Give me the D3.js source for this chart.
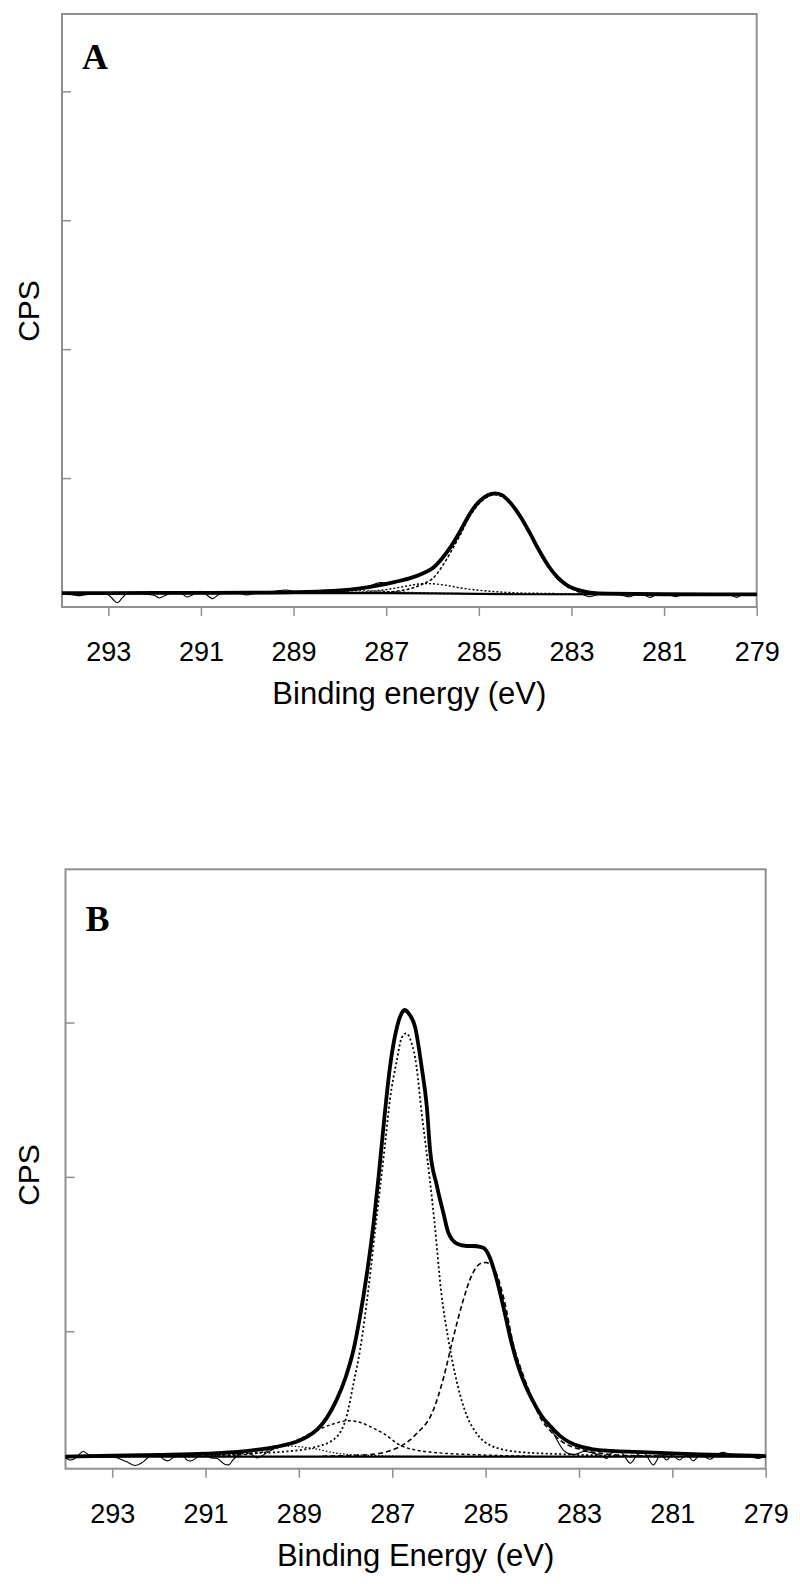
<!DOCTYPE html>
<html>
<head>
<meta charset="utf-8">
<script src="https://cdn.jsdelivr.net/npm/d3@7"></script>
<style>
  body { margin: 0; background: #fff; }
  svg { display: block; }
</style>
</head>
<body>
<script>
// x ticks (binding energy, eV) shared by both panels
var energyTicks = [293, 291, 289, 287, 285, 283, 281, 279];

// ---- panel A : [eV, CPS (arbitrary units)] ----
var rawA = [[294.0,0.100],[293.8,0.095],[293.6,0.088],[293.4,0.100],[293.2,0.108],[293.0,0.095],[292.9,0.060],[292.8,0.033],[292.7,0.070],[292.6,0.105],[292.4,0.110],[292.2,0.100],[292.0,0.090],[291.9,0.070],[291.8,0.085],[291.6,0.112],[291.4,0.100],[291.3,0.078],[291.15,0.100],[291.02,0.122],[290.9,0.100],[290.75,0.065],[290.6,0.100],[290.4,0.115],[290.2,0.108],[290.0,0.093],[289.8,0.110],[289.5,0.118],[289.15,0.132],[288.9,0.112],[288.6,0.120],[288.3,0.130],[288.0,0.128],[287.8,0.140],[287.56,0.150],[287.35,0.165],[287.13,0.190],[286.9,0.183],[286.6,0.215],[286.3,0.250],[286.0,0.300],[285.8,0.380],[285.6,0.470],[285.4,0.600],[285.2,0.730],[285.0,0.820],[284.8,0.875],[284.65,0.885],[284.5,0.872],[284.3,0.805],[284.1,0.700],[283.9,0.570],[283.7,0.445],[283.5,0.325],[283.3,0.230],[283.1,0.175],[282.95,0.140],[282.8,0.105],[282.6,0.080],[282.4,0.100],[282.2,0.104],[282.0,0.100],[281.85,0.085],[281.73,0.080],[281.6,0.098],[281.45,0.095],[281.3,0.075],[281.15,0.098],[281.0,0.100],[280.85,0.090],[280.73,0.080],[280.6,0.098],[280.3,0.100],[280.0,0.096],[279.7,0.100],[279.55,0.090],[279.43,0.075],[279.3,0.095],[279.0,0.098]];
var envelopeA = [[294.0,0.108],[292.0,0.109],[290.0,0.111],[289.0,0.115],[288.5,0.120],[288.0,0.128],[287.6,0.142],[287.2,0.165],[286.8,0.195],[286.5,0.222],[286.2,0.262],[286.0,0.300],[285.8,0.375],[285.6,0.470],[285.4,0.590],[285.2,0.720],[285.0,0.815],[284.8,0.868],[284.65,0.881],[284.5,0.868],[284.3,0.800],[284.1,0.700],[283.9,0.575],[283.7,0.440],[283.5,0.320],[283.3,0.230],[283.1,0.170],[282.9,0.137],[282.6,0.112],[282.2,0.103],[281.0,0.099],[279.0,0.098]];
var mainPeakA = [[288.5,0.108],[287.5,0.110],[287.0,0.116],[286.5,0.140],[286.2,0.180],[286.0,0.220],[285.8,0.310],[285.6,0.430],[285.4,0.560],[285.2,0.700],[285.0,0.800],[284.8,0.857],[284.65,0.870],[284.5,0.857],[284.3,0.790],[284.1,0.690],[283.9,0.565],[283.7,0.430],[283.5,0.310],[283.3,0.220],[283.1,0.160],[282.9,0.130],[282.6,0.110],[282.0,0.102],[281.0,0.099]];
var peak286A = [[289.0,0.108],[288.0,0.110],[287.5,0.116],[287.0,0.135],[286.6,0.160],[286.3,0.178],[286.15,0.182],[286.0,0.180],[285.7,0.168],[285.4,0.148],[285.0,0.130],[284.6,0.118],[284.2,0.110],[283.5,0.105],[282.5,0.100]];
var peak288A = [[290.0,0.108],[289.0,0.110],[288.3,0.116],[287.8,0.124],[287.5,0.126],[287.1,0.122],[286.6,0.115],[286.0,0.108],[285.0,0.104]];
var backgroundA = [[294.0,0.108],[287.0,0.108],[285.5,0.104],[284.0,0.099],[279.0,0.097]];
var cpsTicksA = [1, 2, 3, 4];

// ---- panel B ----
var rawB = [[294.0,0.180],[293.9,0.165],[293.8,0.175],[293.62,0.220],[293.5,0.200],[293.3,0.190],[293.1,0.195],[292.9,0.180],[292.7,0.155],[292.5,0.130],[292.35,0.150],[292.2,0.190],[292.0,0.198],[291.9,0.170],[291.8,0.160],[291.7,0.180],[291.5,0.200],[291.4,0.165],[291.3,0.160],[291.15,0.190],[291.0,0.210],[290.9,0.180],[290.75,0.175],[290.6,0.140],[290.5,0.135],[290.4,0.170],[290.2,0.215],[290.0,0.200],[289.9,0.178],[289.75,0.200],[289.5,0.245],[289.0,0.290],[288.8,0.325],[288.6,0.370],[288.4,0.440],[288.2,0.555],[288.0,0.700],[287.83,0.890],[287.7,1.090],[287.55,1.370],[287.4,1.720],[287.3,1.980],[287.16,2.400],[287.05,2.700],[286.9,2.960],[286.8,3.050],[286.73,3.070],[286.65,3.050],[286.51,2.960],[286.37,2.720],[286.26,2.460],[286.19,2.180],[286.05,1.950],[285.9,1.780],[285.8,1.640],[285.6,1.570],[285.4,1.560],[285.2,1.560],[285.05,1.545],[284.9,1.480],[284.75,1.330],[284.6,1.160],[284.45,0.960],[284.3,0.790],[284.15,0.660],[284.0,0.560],[283.8,0.450],[283.6,0.370],[283.48,0.300],[283.3,0.220],[283.1,0.200],[282.9,0.220],[282.7,0.210],[282.5,0.190],[282.41,0.175],[282.3,0.210],[282.1,0.215],[281.9,0.145],[281.75,0.200],[281.6,0.210],[281.41,0.133],[281.25,0.200],[281.12,0.165],[281.0,0.200],[280.85,0.165],[280.7,0.200],[280.55,0.160],[280.4,0.200],[280.19,0.170],[280.05,0.200],[279.91,0.215],[279.7,0.195],[279.4,0.190],[279.16,0.176],[279.0,0.190]];
var envelopeB = [[294.0,0.187],[293.0,0.193],[292.0,0.199],[291.0,0.207],[290.26,0.219],[290.0,0.228],[289.5,0.250],[289.0,0.290],[288.8,0.320],[288.6,0.365],[288.4,0.440],[288.2,0.550],[288.0,0.700],[287.83,0.880],[287.7,1.080],[287.55,1.360],[287.4,1.700],[287.3,1.980],[287.16,2.410],[287.05,2.710],[286.9,2.970],[286.8,3.060],[286.73,3.082],[286.65,3.060],[286.51,2.970],[286.37,2.710],[286.26,2.455],[286.19,2.174],[286.05,1.950],[285.9,1.760],[285.8,1.640],[285.6,1.565],[285.4,1.552],[285.2,1.550],[285.05,1.540],[284.9,1.470],[284.75,1.320],[284.6,1.130],[284.45,0.930],[284.3,0.770],[284.15,0.650],[284.0,0.555],[283.8,0.450],[283.6,0.380],[283.4,0.320],[283.2,0.280],[283.0,0.255],[282.7,0.235],[282.3,0.225],[281.8,0.218],[281.0,0.208],[280.4,0.202],[279.0,0.191]];
var mainPeakB = [[291.0,0.195],[290.05,0.209],[289.33,0.219],[288.62,0.251],[288.19,0.316],[287.98,0.446],[287.83,0.662],[287.69,0.878],[287.5,1.300],[287.35,1.700],[287.16,2.196],[287.05,2.498],[286.9,2.758],[286.8,2.900],[286.7,2.930],[286.6,2.880],[286.48,2.714],[286.37,2.412],[286.28,2.196],[286.1,1.720],[285.95,1.250],[285.8,0.950],[285.6,0.650],[285.4,0.450],[285.2,0.340],[284.91,0.262],[284.33,0.219],[283.26,0.202],[282.0,0.192],[281.0,0.189]];
var peak285B = [[288.5,0.190],[287.5,0.200],[286.84,0.251],[286.5,0.330],[286.12,0.489],[285.9,0.700],[285.7,0.950],[285.5,1.180],[285.3,1.360],[285.1,1.440],[285.0,1.445],[284.85,1.420],[284.6,1.200],[284.41,0.920],[284.2,0.720],[284.05,0.600],[283.84,0.446],[283.6,0.350],[283.41,0.295],[282.91,0.230],[282.0,0.195],[281.0,0.190]];
var peak288B = [[291.0,0.190],[290.0,0.205],[289.5,0.240],[289.0,0.300],[288.6,0.360],[288.25,0.400],[287.95,0.420],[287.7,0.410],[287.4,0.370],[287.19,0.338],[286.84,0.262],[286.5,0.230],[286.12,0.215],[285.05,0.198],[284.0,0.190]];
var peak289B = [[292.0,0.188],[290.5,0.200],[289.8,0.230],[289.2,0.255],[288.7,0.240],[288.2,0.210],[287.5,0.195],[286.5,0.188]];
var backgroundB = [[294.0,0.187],[279.0,0.187]];
var cpsTicksB = [1, 2, 3];

var W = 800, H = 1584;
var svg = d3.select("body").append("svg")
    .attr("width", W)
    .attr("height", H);

function drawPanel(p) {
    var x = d3.scaleLinear().domain([294, 279]).range([p.left, p.right]);
    var y = d3.scaleLinear().domain(p.yDomain).range([p.bottom, p.top]);

    var g = svg.append("g");

    // x axis ticks + labels (outside, below the frame)
    var xAxis = d3.axisBottom(x).tickValues(energyTicks).tickSize(9).tickPadding(26)
        .tickFormat(d3.format("d"));
    var gx = g.append("g").attr("transform", "translate(0," + p.bottom + ")").call(xAxis);
    gx.select(".domain").remove();
    gx.selectAll(".tick line").attr("stroke", "#8f8f8f").attr("stroke-width", 1.5);
    gx.selectAll(".tick text")
        .attr("fill", "#000")
        .style("font-family", "'Liberation Sans', Arial, sans-serif")
        .style("font-size", "27px");

    // y axis ticks (inside, no labels)
    var yAxis = d3.axisRight(y).tickValues(p.yTicks).tickSize(9).tickFormat("");
    var gy = g.append("g").attr("transform", "translate(" + p.left + ",0)").call(yAxis);
    gy.select(".domain").remove();
    gy.selectAll(".tick line").attr("stroke", "#8f8f8f").attr("stroke-width", 1.5);

    // frame
    g.append("rect")
        .attr("x", p.left).attr("y", p.top)
        .attr("width", p.right - p.left).attr("height", p.bottom - p.top)
        .attr("fill", "none").attr("stroke", "#8f8f8f").attr("stroke-width", 2);

    var smooth = d3.line().x(function(d) { return x(d[0]); }).y(function(d) { return y(d[1]); })
        .curve(d3.curveMonotoneX);
    var wiggle = d3.line().x(function(d) { return x(d[0]); }).y(function(d) { return y(d[1]); })
        .curve(d3.curveCatmullRom.alpha(0.5));

    p.components.forEach(function(c) {
        g.append("path").datum(c.data)
            .attr("d", smooth)
            .attr("fill", "none").attr("stroke", "#000")
            .attr("stroke-width", c.width)
            .attr("stroke-dasharray", c.dash);
    });

    g.append("path").datum(p.background).attr("d", smooth)
        .attr("fill", "none").attr("stroke", "#000").attr("stroke-width", 2.2);

    g.append("path").datum(p.raw).attr("d", wiggle)
        .attr("fill", "none").attr("stroke", "#000").attr("stroke-width", 1.1);

    g.append("path").datum(p.envelope).attr("d", smooth)
        .attr("fill", "none").attr("stroke", "#000").attr("stroke-width", 3.8)
        .attr("stroke-linejoin", "round");

    // panel letter
    g.append("text")
        .attr("x", p.left + 20).attr("y", p.letterY)
        .style("font-family", "'Liberation Serif', 'Times New Roman', serif")
        .style("font-weight", "bold")
        .style("font-size", "36px")
        .text(p.letter);

    // axis titles
    g.append("text")
        .attr("x", (p.left + p.right) / 2).attr("y", p.titleY)
        .attr("text-anchor", "middle")
        .style("font-family", "'Liberation Sans', Arial, sans-serif")
        .style("font-size", "31px")
        .text(p.xTitle);

    g.append("text")
        .attr("transform", "translate(39," + p.cpsY + ") rotate(-90)")
        .attr("text-anchor", "middle")
        .style("font-family", "'Liberation Sans', Arial, sans-serif")
        .style("font-size", "30px")
        .text("CPS");
}

drawPanel({
    left: 62, right: 756.7, top: 14, bottom: 607,
    yDomain: [0, 4.6], yTicks: cpsTicksA,
    raw: rawA, envelope: envelopeA, background: backgroundA,
    components: [
        {data: mainPeakA, dash: "3,2", width: 1.5},
        {data: peak286A, dash: "2,2", width: 1.4},
        {data: peak288A, dash: "2,2", width: 1.2}
    ],
    letter: "A", letterY: 69,
    xTitle: "Binding energy (eV)", titleY: 704, cpsY: 311
});

drawPanel({
    left: 65.5, right: 765.7, top: 869.3, bottom: 1468.7,
    yDomain: [0.109, 3.993], yTicks: cpsTicksB,
    raw: rawB, envelope: envelopeB, background: backgroundB,
    components: [
        {data: mainPeakB, dash: "2,2.5", width: 1.8},
        {data: peak285B, dash: "5,3", width: 1.6},
        {data: peak288B, dash: "3,2.5", width: 1.4},
        {data: peak289B, dash: "1.5,2", width: 1.2}
    ],
    letter: "B", letterY: 930.7,
    xTitle: "Binding Energy (eV)", titleY: 1565.7, cpsY: 1175
});
</script>
</body>
</html>
